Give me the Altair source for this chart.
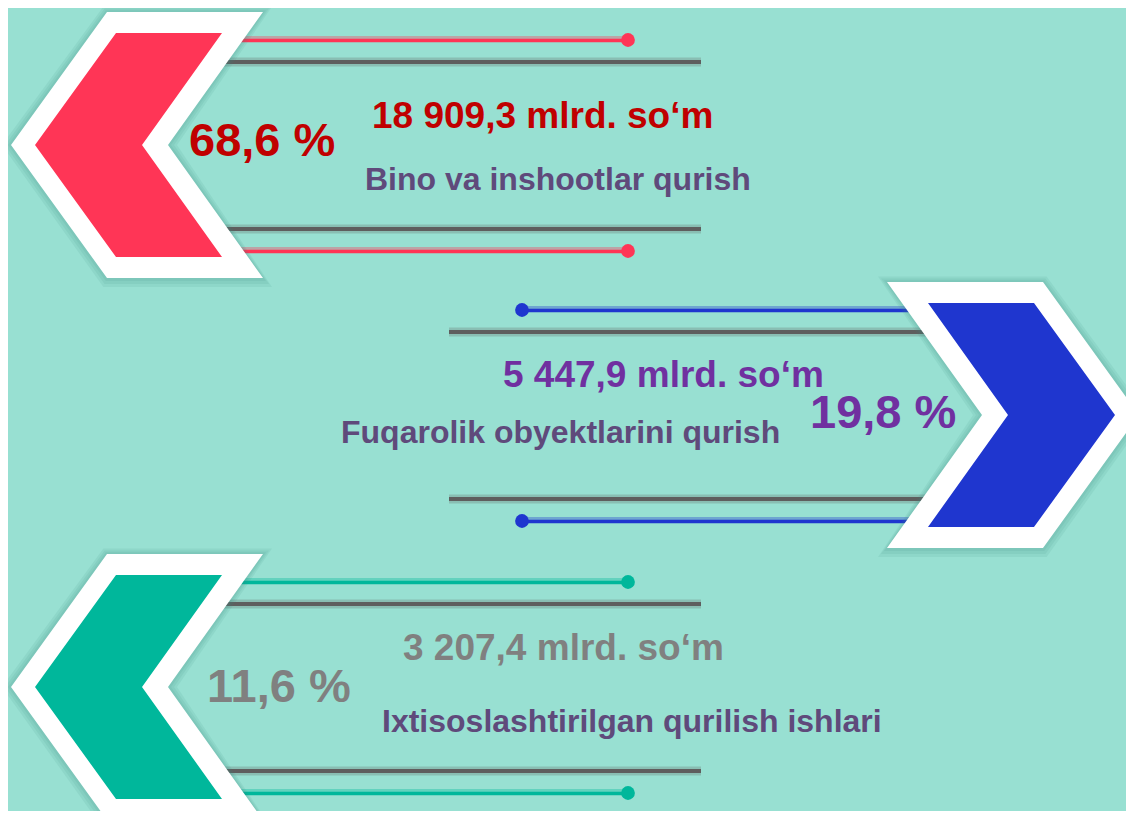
import altair as alt
import pandas as pd

# ---------------- data ----------------
categories = [
    "Bino va inshootlar qurish",
    "Fuqarolik obyektlarini qurish",
    "Ixtisoslashtirilgan qurilish ishlari",
]
shares = [68.6, 19.8, 11.6]            # %
amounts = [18909.3, 5447.9, 3207.4]    # mlrd. so'm
unit = "mlrd. so\u2018m"
chevron_colors = ["#FF3556", "#1F36CF", "#00B79B"]
pct_colors = ["#C00000", "#7030A0", "#808080"]
amount_colors = ["#C00000", "#7030A0", "#808080"]
label_color = "#5F4A7B"

# ---------------- layout ----------------
BG = "#98E0D2"
WHITE = "#FFFFFF"
GRAY_LINE = "#5E5E5E"
row_cy = [145, 415, 687]
row_side = ["left", "right", "left"]
MIRROR = 1150
# (pct_x, pct_dy, amt_x, amt_dy, lab_x, lab_dy)
text_pos = [
    (189, 11, 372, -17, 365, 45),
    (810, 13, 503, -28, 341, 28),
    (207, 15, 403, -27, 382, 45),
]
FS_PCT, FS_AMT, FS_LAB = 47, 37, 32
FONT = "Liberation Sans"
X0, X1 = 8, 1126
Y0, Y1 = 8, 811


def fmt(v):
    return f"{v:,.1f}".replace(",", " ").replace(".", ",")


def mx(x, side):
    return x if side == "left" else MIRROR - x


def chevron(cy, side, top, bot, outer_top, tip, inner_top, notch):
    pts = [(cy - top, outer_top, inner_top), (cy, tip, notch), (cy + bot, outer_top, inner_top)]
    out = []
    for y, a, b in pts:
        if side == "left":
            out.append(dict(y=y, xl=a, xr=b))
        else:
            out.append(dict(y=y, xl=MIRROR - b, xr=MIRROR - a))
    return pd.DataFrame(out)


polys = []  # (df, color, opacity)
for i, (cy, side) in enumerate(zip(row_cy, row_side)):
    for d in (9, 6, 3):
        polys.append((chevron(cy, side, 133 + d * 0.6, 133 + d, 107 - d * 0.4, 11 - d, 263 + d, 168 + d), "#3E8C7E", 0.10))
    polys.append((chevron(cy, side, 133, 133, 107, 11, 263, 168), WHITE, 1.0))
    polys.append((chevron(cy, side, 112, 112, 116, 35, 222, 142), chevron_colors[i], 1.0))

line_rows = []
dot_rows = []
for i, (cy, side) in enumerate(zip(row_cy, row_side)):
    for dy in (-105, 106):
        x1, x2 = sorted([mx(200, side), mx(628, side)])
        line_rows.append(dict(x=x1, x2=x2, y=cy + dy - 1, c=chevron_colors[i], w=6, o=0.35))
        line_rows.append(dict(x=x1, x2=x2, y=cy + dy + 0.5, c=chevron_colors[i], w=3.5, o=1.0))
        dot_rows.append(dict(x=mx(628, side), y=cy + dy, c=chevron_colors[i]))
    for dy in (-83, 84):
        x1, x2 = sorted([mx(200, side), mx(701, side)])
        line_rows.append(dict(x=x1, x2=x2, y=cy + dy, c="#6E7F7A", w=9, o=0.35))
        line_rows.append(dict(x=x1, x2=x2, y=cy + dy, c=GRAY_LINE, w=4, o=1.0))
lines = pd.DataFrame(line_rows)
dots = pd.DataFrame(dot_rows)

text_rows = []
for i, cy in enumerate(row_cy):
    px, pdy, ax, ady, lx, ldy = text_pos[i]
    text_rows.append(dict(x=px, y=cy + pdy, t=fmt(shares[i]) + " %", c=pct_colors[i], s=FS_PCT))
    text_rows.append(dict(x=ax, y=cy + ady, t=fmt(amounts[i]) + " " + unit, c=amount_colors[i], s=FS_AMT))
    text_rows.append(dict(x=lx, y=cy + ldy, t=categories[i], c=label_color, s=FS_LAB))
texts = pd.DataFrame(text_rows)

# ---------------- scales ----------------
xs = alt.Scale(domain=[X0, X1], nice=False, zero=False)
ys = alt.Scale(domain=[Y0, Y1], nice=False, zero=False, reverse=True)


def X(f):
    return alt.X(f, type="quantitative", scale=xs, axis=None)


def Y(f):
    return alt.Y(f, type="quantitative", scale=ys, axis=None)


line_layer = alt.Chart(lines).mark_rule(clip=True, strokeCap="butt").encode(
    x=X("x"), x2=alt.X2("x2"), y=Y("y"),
    color=alt.Color("c:N", scale=None),
    strokeWidth=alt.StrokeWidth("w:Q", scale=None),
    opacity=alt.Opacity("o:Q", scale=None),
)

dot_layer = alt.Chart(dots).mark_point(filled=True, shape="circle", size=190, opacity=1, clip=True).encode(
    x=X("x"), y=Y("y"), color=alt.Color("c:N", scale=None)
)

poly_layers = []
for df, col, op in polys:
    poly_layers.append(
        alt.Chart(df).mark_area(orient="horizontal", clip=True, color=col, opacity=op, interpolate="linear").encode(
            y=Y("y"), x=X("xl"), x2=alt.X2("xr"),
        )
    )

text_layer = alt.Chart(texts).mark_text(
    align="left", baseline="alphabetic", font=FONT, fontWeight="bold"
).encode(
    x=X("x"), y=Y("y"), text="t:N",
    color=alt.Color("c:N", scale=None),
    size=alt.Size("s:Q", scale=None),
)

chart = alt.layer(line_layer, dot_layer, *poly_layers, text_layer).properties(
    width=X1 - X0, height=Y1 - Y0, background=BG, padding=0
).configure_view(stroke=None)

chart.save("out.html", embed_options={"renderer": "svg", "actions": False})
